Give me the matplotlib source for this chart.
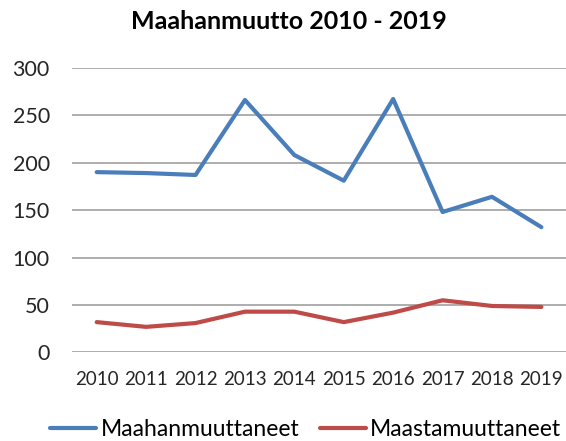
import matplotlib
matplotlib.use('Agg')
import matplotlib.pyplot as plt

matplotlib.rc('font', family='Lato')

years = ['2010', '2011', '2012', '2013', '2014', '2015', '2016', '2017', '2018', '2019']
maahan = [190, 189, 187, 266, 208, 181, 267, 148, 164, 132]
maastam = [32, 27, 31, 43, 43, 32, 42, 55, 49, 48]

fig = plt.figure(figsize=(5.66, 4.41), dpi=100)
ax = fig.add_axes([0.1272, 0.2007, 0.873, 0.6458])

x = range(len(years))
ax.plot(x, maahan, color='#4A7EBB', lw=3, label='Maahanmuuttaneet', solid_capstyle='round')
ax.plot(x, maastam, color='#BE4B48', lw=3, label='Maastamuuttaneet', solid_capstyle='round')

ax.set_xlim(-0.5, 9.5)
ax.set_ylim(0, 300)
ax.set_yticks(range(0, 301, 50))
ax.set_xticks(list(x))
ax.set_xticklabels(years)
ax.grid(axis='y', color='#A0A0A0', lw=1.2)
ax.set_axisbelow(True)
for s in ax.spines.values():
    s.set_visible(False)
ax.tick_params(axis='both', length=0, colors='#262626')
ax.tick_params(axis='y', pad=16, labelsize=15.5)
ax.tick_params(axis='x', pad=13, labelsize=13.5)

fig.text(0.51, 0.952, 'Maahanmuutto 2010 - 2019', ha='center', va='center',
         fontsize=18, fontweight='bold')

fig.legend(loc='center', bbox_to_anchor=(0.54, 0.026), ncol=2, frameon=False,
           fontsize=16.5, handlelength=2.0, handletextpad=0.2, columnspacing=0.9)

plt.savefig('out.png', dpi=100)
plt.close()
